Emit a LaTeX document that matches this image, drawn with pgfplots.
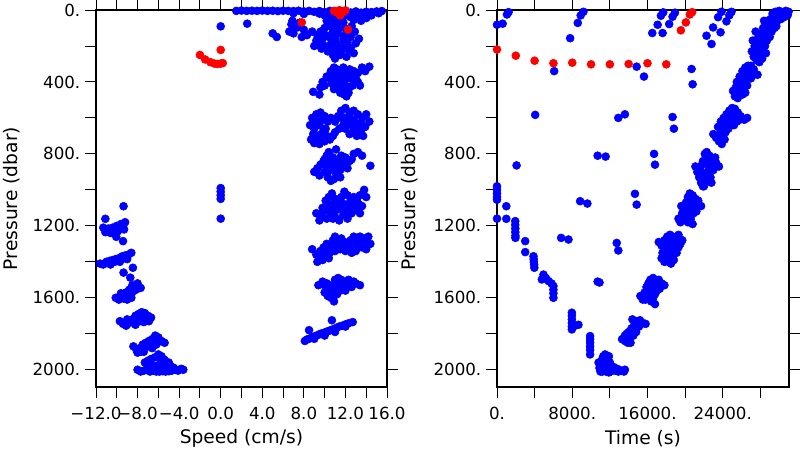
\documentclass[border=0pt]{standalone}
\usepackage{fontspec}
\setmainfont{DejaVu Sans}
\usepackage{pgfplots}
\pgfplotsset{compat=1.18}
\pgfplotsset{
 myax/.style={
  scale only axis, anchor=south west, height=282.75pt,
  y dir=reverse, ymin=0, ymax=2096,
  ytick={0,400,...,2000}, yticklabels={0.,400.,800.,1200.,1600.,2000.},
  minor ytick={200,600,...,1800},
  scaled x ticks=false, scaled y ticks=false,
  tick align=outside, major tick length=8.25pt, minor tick length=8.25pt,
  every tick/.style={black, line width=0.7pt},
  axis line style={line width=0.9pt},
  ticklabel style={font=\fontsize{12.5}{14}\selectfont},
  xticklabel style={yshift=-3.5pt},
  label style={font=\fontsize{14}{16}\selectfont},
  ylabel={Pressure (dbar)},
 },
 bl/.style={only marks, mark=*, mark size=3pt, color=blue, mark options={draw=blue, fill=blue}},
 rd/.style={only marks, mark=*, mark size=3pt, color=red, mark options={draw=red, fill=red}},
}
\begin{document}
\begin{tikzpicture}
\fill[white] (0,0) rectangle (600pt,337.5pt);
\path[use as bounding box] (0,0) rectangle (600pt,337.5pt);
\begin{axis}[myax, at={(72pt,47.25pt)}, width=218.25pt,
  xmin=-12, xmax=16, xtick={-12,-8,...,16},
  xticklabels={−12.0,−8.0,−4.0,0.0,4.0,8.0,12.0,16.0},
  minor xtick={-10,-6,...,14},
  xlabel={Speed (cm/s)},
  xlabel style={at={(axis description cs:0.5,-0.137)}, anchor=center},
  ylabel style={at={(axis description cs:-0.289,0.5)}, anchor=center},
]
\addplot[bl] coordinates {
(1.5,5)(2.0,3)(2.5,5)(3.0,4)(3.5,5)(4.0,3)(4.5,5)(5.0,4)(5.5,6)(6.0,4)(6.5,5)(7.0,6)(7.5,4)(8.0,8)(8.5,5)(9.0,10)(9.5,6)(10.0,12)(10.5,5)(11.0,8)(11.5,4)(12.0,10)(12.5,14)(13.0,8)(13.5,15)(14.0,10)(14.5,12)(15.0,8)(15.5,6)(13.0,20)(14.0,25)(12.0,30)(12.5,40)(13.5,35)(11.0,25)(7.0,18)(8.0,22)(9.5,20)(10.0,30)(12.8,55)(14.5,30)(15.2,18)
(6.8,80)(7.2,100)(7.0,130)(7.5,95)(8.0,110)(8.3,140)(7.8,150)(6.6,120)(6.9,60)(7.6,70)
(5.0,130)(5.4,150)(2.55,76)
(8.8,120)(9.2,170)(9.0,200)(9.5,180)(9.7,215)(9.3,140)(9.8,160)
(10.2,60)(10.5,90)(10.8,120)(10.4,150)(10.6,190)(10.3,230)(10.8,250)(11.0,270)(11.2,230)(11.5,200)(11.8,160)(11.3,130)(11.0,80)(11.6,50)(11.9,100)(12.0,140)(12.2,180)(12.5,210)(12.8,240)(12.1,260)(11.4,60)(10.9,40)(10.5,30)(11.0,160)(11.5,250)(10.0,200)(12.3,220)
(10.0,100)(10.7,70)(11.2,100)(10.5,210)(11.3,190)(10.9,220)(11.7,220)(12.0,200)(9.6,120)(10.1,140)(12.4,120)(11.8,70)
(12.5,150)(13.0,185)(12.9,120)(13.3,160)(12.6,90)(13.5,60)(14.0,45)
(8.9,455)(9.6,430)(9.8,400)(10.2,370)(10.6,340)(10.9,320)(11.2,330)(11.5,350)(11.8,320)(12.1,340)(12.4,330)(12.8,340)(13.2,350)(13.6,320)(14.3,315)(13.9,340)(13.0,380)(12.6,370)(12.2,380)(11.8,400)(11.4,380)(11.0,390)(10.7,410)(11.2,420)(11.6,440)(12.0,420)(12.4,430)(12.8,400)(12.3,460)(11.9,470)(12.1,480)(11.5,460)(10.9,440)(10.0,420)(9.5,470)(13.4,420)
(11.0,350)(11.6,360)(12.0,360)(12.5,350)(11.3,400)(12.0,440)(11.5,420)(12.7,420)(13.2,400)(10.5,380)
(8.6,640)(8.8,600)(9.2,580)(9.6,570)(10.0,590)(10.3,620)(10.1,660)(9.7,690)(9.3,700)(8.9,690)(8.7,720)(9.0,740)(9.5,745)(10.0,730)(10.5,720)(10.8,700)(11.0,680)(9.5,640)(10.6,600)
(9.0,660)(9.4,720)(10.2,700)(9.8,610)(9.2,620)(12.0,660)(12.4,600)(13.0,630)(13.4,650)(11.6,600)(12.8,670)(13.7,700)(9.9,670)
(11.0,620)(11.3,590)(11.6,560)(12.0,545)(12.4,570)(12.8,560)(13.2,580)(13.6,600)(14.0,580)(14.3,620)(13.9,650)(13.5,670)(13.0,660)(12.6,640)(12.2,620)(11.8,640)(11.4,660)(12.4,690)(13.1,700)(12.0,600)(12.8,610)(13.5,630)
(9.0,900)(9.3,880)(9.6,860)(9.9,840)(10.2,810)(10.4,790)(10.0,900)(10.3,930)(10.6,950)(10.9,940)(11.2,920)(11.5,890)(11.8,870)(12.1,850)(11.0,850)(10.7,870)(10.5,880)(11.3,830)(11.6,810)(12.0,820)(12.4,840)(12.8,800)(13.2,790)(13.6,810)(14.4,866)(11.0,900)(12.2,880)(9.5,920)(11.1,775)
(10.0,860)(10.4,840)(10.8,820)(11.4,860)(11.8,830)(10.3,900)(11.5,930)(10.0,830)(11.2,880)(12.6,830)
(9.2,1130)(9.5,1170)(9.8,1100)(10.1,1060)(10.4,1040)(10.7,1020)(11.0,1050)(11.3,1080)(11.6,1040)(11.9,1010)(12.2,1030)(12.5,1060)(12.8,1040)(13.1,1060)(13.4,1030)(13.8,1000)(14.0,1040)(13.6,1090)(13.0,1110)(12.6,1130)(12.2,1160)(11.8,1140)(11.4,1170)(11.0,1150)(10.6,1130)(10.2,1160)(9.9,1120)(10.8,1090)(11.6,1110)(12.4,1100)
(10.5,1080)(11.2,1110)(11.9,1080)(12.6,1080)(13.3,1080)(10.2,1100)(11.5,1060)(12.0,1120)(10.8,1160)(13.4,1130)(9.6,1140)
(8.8,1330)(9.2,1360)(9.3,1400)(9.6,1340)(9.9,1320)(10.2,1300)(10.5,1350)(10.8,1280)(11.0,1260)(11.3,1300)(11.6,1270)(11.9,1290)(12.2,1310)(12.5,1280)(12.8,1260)(13.1,1290)(13.4,1260)(13.8,1270)(14.2,1260)(14.4,1300)(13.6,1320)(13.0,1340)(12.6,1350)(12.0,1340)(11.5,1330)(11.0,1340)(10.4,1380)(9.8,1390)(12.9,1320)(14.0,1330)
(10.0,1350)(10.7,1320)(11.3,1320)(12.0,1300)(12.6,1320)(13.3,1300)(13.9,1300)(10.2,1340)(11.8,1320)(9.5,1370)
(9.4,1530)(9.8,1510)(10.1,1540)(10.4,1560)(10.7,1580)(10.9,1620)(10.6,1600)(11.0,1500)(11.3,1490)(11.6,1500)(11.9,1520)(12.2,1530)(12.6,1540)(13.0,1520)(13.4,1530)(12.0,1560)(11.5,1560)(11.2,1580)(10.3,1590)(11.8,1550)(10.0,1570)
(10.5,1530)(11.0,1540)(11.5,1530)(10.8,1560)(11.2,1520)(10.2,1520)(12.3,1500)(12.8,1510)(10.8,1600)
(8.1,1840)(8.3,1832)(8.5,1828)(8.8,1820)(9.0,1815)(9.3,1808)(9.6,1800)(9.9,1795)(10.2,1788)(10.5,1782)(10.8,1775)(11.1,1768)(11.4,1760)(11.7,1755)(12.0,1748)(12.3,1742)(12.7,1735)(8.5,1780)(10.7,1725)(9.0,1828)(10.0,1810)(11.0,1790)(12.0,1760)
(-9.35,1091)(-11.1,1161)
(-11.3,1210)(-11.0,1230)(-10.6,1240)(-10.2,1225)(-9.8,1215)(-9.4,1200)(-9.2,1180)(-9.6,1190)(-10.0,1200)(-10.4,1210)(-10.8,1215)(-11.1,1235)(-9.3,1220)(-10.5,1225)(-9.9,1230)
(-10.05,1261)(-9.4,1285)
(-11.6,1410)(-11.3,1415)(-11.0,1400)(-10.7,1395)(-10.4,1390)(-10.1,1385)(-9.8,1380)(-9.5,1370)(-9.2,1365)(-8.9,1360)(-8.6,1350)(-10.6,1415)(-9.7,1400)(-9.0,1385)(-10.2,1400)(-9.3,1380)
(-8.45,1433)(-9.35,1460)(-8.7,1488)
(-10.1,1600)(-9.8,1610)(-9.5,1595)(-9.2,1590)(-8.9,1590)(-8.6,1580)(-8.3,1560)(-8.0,1550)(-7.7,1545)(-8.0,1520)(-8.5,1530)(-8.8,1555)(-9.1,1570)(-9.6,1575)(-9.3,1605)(-8.6,1600)(-8.2,1540)(-9.0,1610)
(-9.7,1730)(-9.4,1745)(-9.1,1755)(-8.8,1740)(-8.5,1720)(-8.2,1700)(-7.9,1690)(-7.6,1680)(-7.3,1685)(-7.0,1700)(-6.7,1710)(-6.9,1730)(-7.4,1735)(-7.8,1730)(-8.3,1735)(-9.0,1720)(-8.7,1725)(-8.0,1720)(-7.5,1710)(-7.2,1720)(-8.2,1750)
(-8.4,1870)(-8.1,1890)(-7.8,1880)(-7.5,1860)(-7.2,1850)(-6.9,1840)(-6.6,1830)(-6.3,1810)(-6.0,1820)(-5.7,1840)(-5.4,1850)(-6.2,1860)(-6.8,1870)(-7.4,1900)(-8.0,1905)(-6.5,1850)(-7.0,1870)(-6.0,1845)(-6.6,1880)(-7.7,1900)
(-8.0,2000)(-7.7,2010)(-7.4,2005)(-7.1,2000)(-6.8,2010)(-6.5,2005)(-6.2,2010)(-5.9,2010)(-5.6,2008)(-5.3,2010)(-5.0,2008)(-4.7,2005)(-4.4,2000)(-4.1,2005)(-3.8,1995)(-3.6,2000)(-7.3,1960)(-7.0,1950)(-6.7,1940)(-6.3,1930)(-6.0,1915)(-5.7,1925)(-5.4,1945)(-5.0,1960)(-4.8,1980)(-6.5,1975)(-6.0,1980)(-5.5,1985)(-7.0,1985)(-6.7,1990)(-6.0,2000)(-5.2,1980)(-4.5,1990)(-6.9,1965)(-5.8,1960)
(0,91)(0,990)(0,1010)(0,1030)(0,1050)(0,1160)
};
\addplot[rd] coordinates {
(-2.0,250)(-1.5,275)(-1.0,290)(-0.6,298)(-0.3,300)(0.0,298)(0.2,295)(0.0,222)(7.8,69)(12.25,109)(10.9,5)(11.2,15)(11.5,30)(11.8,10)(12.0,2)(11.4,2)
};
\end{axis}
\begin{axis}[myax, at={(372.75pt,47.25pt)}, width=219pt,
  xmin=0, xmax=31050, xtick={0,8000,16000,24000},
  xticklabels={0.,8000.,16000.,24000.},
  minor xtick={4000,12000,20000,28000},
  xlabel={Time (s)},
  xlabel style={at={(axis description cs:0.5,-0.137)}, anchor=center},
  ylabel style={at={(axis description cs:-0.298,0.5)}, anchor=center},
]
\addplot[bl] coordinates {
(0,82)(600,76)(1060,25)(1230,12)(7780,157)(8590,72)(8900,30)(9190,10)(6080,340)(4060,583)(2080,864)
(0,980)(0,1000)(0,1020)(0,1040)(0,1055)(990,1091)(0,1160)(990,1161)
(1940,1174)(1940,1195)(1950,1215)(1950,1235)(1960,1255)(1960,1267)
(3000,1285)(3000,1346)
(3880,1369)(3900,1385)(3920,1400)(3950,1415)(3970,1433)
(4940,1471)(4770,1498)(5200,1490)(5480,1507)(5800,1520)(6000,1535)(6000,1555)(6000,1575)(6000,1600)
(6820,1267)(7600,1276)
(7960,1683)(7960,1700)(7960,1720)(7960,1740)(7960,1760)(7960,1776)(8300,1755)(8660,1750)
(8840,1063)(9610,1076)
(9900,1813)(9900,1830)(9900,1850)(9900,1870)(9900,1890)(9900,1915)
(10700,810)(11550,815)
(10700,1510)(10900,1515)
(12730,1295)(12900,1337)
(12900,600)(13600,580)
(14670,1022)(14850,1082)
(14850,315)(15630,370)
(16700,800)(16800,860)
(18670,595)(18810,660)
(20690,328)(20800,413)
(16510,128)(17080,82)(17610,128)(17430,32)(17680,13)(18310,78)(18670,37)(18920,15)
(22280,143)(22810,189)(22980,97)(23770,124)(23510,40)(23870,10)(24400,63)(24700,30)(24935,10)
(10800,1960)(10900,1990)(11000,2010)(11200,1940)(11300,1925)(11500,1915)(11700,1930)(11900,1925)(12000,1960)(11400,1980)(11800,1990)(11200,2010)(11600,2010)(12000,2010)(12300,2005)(12600,2005)(12900,2010)(13200,2005)(13500,2010)(13600,2000)(12400,1985)(11900,2015)
(11100,1960)(11400,1950)(11600,1960)(11800,1955)(11300,1990)(12200,1990)(12800,1995)
(13300,1830)(13600,1840)(13900,1820)(14200,1850)(14000,1790)(14300,1770)(14600,1750)(14900,1730)(15200,1725)(15500,1740)(15800,1745)(14800,1790)(14500,1810)(14200,1800)(13800,1800)(14600,1780)(15100,1760)(14400,1720)
(13600,1810)(14100,1820)(14400,1780)(14900,1760)(15300,1745)(13900,1850)(14700,1740)
(15250,1590)(15500,1610)(15700,1570)(15900,1540)(16100,1520)(16300,1500)(16600,1490)(16900,1510)(17200,1500)(17500,1520)(17800,1530)(16000,1600)(16400,1620)(16800,1635)(16500,1560)(17000,1560)(16200,1570)(15800,1610)(17300,1550)
(15600,1590)(16000,1560)(16300,1540)(16700,1520)(16800,1580)(16600,1600)(17100,1530)(15900,1580)(16400,1590)
(17200,1290)(17500,1310)(17800,1280)(18100,1260)(18400,1250)(18700,1260)(19000,1270)(19300,1250)(19700,1280)(17600,1350)(17900,1380)(18200,1400)(18500,1410)(18800,1390)(19100,1350)(19300,1320)(18600,1330)(18000,1320)(18300,1360)(19500,1300)(17800,1400)
(17500,1380)(17800,1340)(18100,1300)(18400,1290)(18700,1300)(19000,1310)(18000,1360)(18500,1370)(18200,1280)(18900,1350)
(19300,1160)(19500,1180)(19700,1130)(19900,1100)(20100,1070)(20300,1040)(20500,1020)(20800,1030)(21100,1050)(21400,1060)(21700,1090)(20000,1150)(20300,1180)(20600,1160)(20900,1130)(21200,1120)(20200,1110)(20600,1080)(20800,1190)(19600,1090)
(19800,1150)(20000,1110)(20400,1070)(20700,1050)(21000,1080)(21300,1090)(20400,1140)(20700,1110)(21000,1100)(20100,1170)
(21100,870)(21300,900)(21500,930)(21700,960)(22000,980)(21900,840)(22100,800)(22300,790)(22600,810)(22900,830)(23200,820)(23600,870)(22400,900)(22700,930)(22100,950)(21600,880)(22500,860)(23000,890)(22800,960)(23300,850)
(21400,900)(21800,910)(22200,850)(22200,920)(22600,880)(22900,860)(23200,870)(22400,830)(21800,860)(22500,950)(21900,980)
(23000,690)(23300,710)(23600,730)(23900,745)(24200,720)(23500,650)(23800,620)(24100,600)(24400,580)(24700,560)(25000,545)(25300,550)(25600,570)(25900,590)(26300,610)(26600,600)(24900,610)(25200,640)(24600,660)(24300,680)(25500,620)(24000,700)
(23500,700)(23900,670)(24300,640)(24600,620)(25000,580)(25400,590)(25800,610)(24200,660)(23700,690)(24800,640)(25100,600)(24500,600)
(25100,450)(25300,480)(25600,490)(25900,470)(26100,440)(25800,420)(25500,400)(25800,370)(26100,340)(26400,320)(26700,310)(27000,310)(27300,330)(27700,360)(26500,380)(26200,410)(26800,350)(25700,450)(26400,460)(27000,380)
(25500,450)(26000,410)(26300,380)(26600,350)(26900,340)(25900,440)(26100,470)(25400,430)(27300,360)(26600,420)
(27100,230)(27300,260)(27600,280)(27900,290)(28200,270)(27400,200)(27700,180)(28000,210)(28300,230)(28500,200)(27800,150)(28100,130)(28400,160)(28700,170)(28300,100)(28600,110)(28900,90)(29200,120)(28800,60)(29100,50)(29400,70)(29700,90)(29300,20)(29600,10)(29900,30)(30200,50)(30000,5)(30400,15)(30700,5)(31000,10)(30500,40)(29000,150)(27500,120)(28600,240)(30900,30)(29800,60)(28400,60)(27200,170)
(27500,240)(27800,230)(28000,250)(27700,210)(28100,180)(28400,190)(28300,140)(28600,140)(28900,120)(29200,90)(29500,40)(29800,20)(30100,20)(29500,100)(28700,80)(27900,260)(30300,30)(28100,230)
};
\addplot[rd] coordinates {
(0,220)(2000,254)(4000,282)(6000,296)(8000,293)(10000,302)(12000,302)(14000,300)(16000,296)(18000,302)(19550,113)(20080,69)(20500,25)(20750,12)
};
\end{axis}
\end{tikzpicture}
\end{document}
